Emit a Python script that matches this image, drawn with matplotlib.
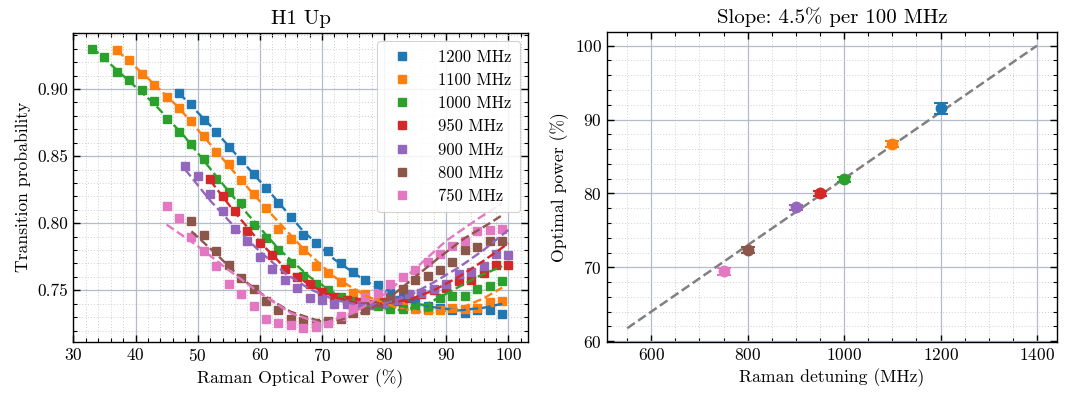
import numpy as np
import matplotlib
matplotlib.use("Agg")
import matplotlib.pyplot as plt
from matplotlib.ticker import MultipleLocator

plt.rcParams.update({
    "font.family": "serif",
    "font.serif": ["cmr10", "DejaVu Serif"],
    "mathtext.fontset": "cm",
    "axes.formatter.use_mathtext": True,
    "axes.unicode_minus": False,
})

# ---------------- data: left panel ----------------
labels = ["1200 MHz", "1100 MHz", "1000 MHz", "950 MHz", "900 MHz", "800 MHz", "750 MHz"]
colors = ["#1f77b4", "#ff7f0e", "#2ca02c", "#d62728", "#9467bd", "#8c564b", "#e377c2"]

x_1200 = list(range(47, 100, 2))
y_1200 = [0.897, 0.889, 0.877, 0.868, 0.857, 0.847, 0.837, 0.826, 0.815, 0.805,
          0.791, 0.785, 0.779, 0.770, 0.764, 0.758, 0.754, 0.748, 0.744, 0.741,
          0.738, 0.737, 0.735, 0.733, 0.735, 0.735, 0.732]

x_1100 = list(range(37, 100, 2))
y_1100 = [0.929, 0.922, 0.911, 0.903, 0.894, 0.886, 0.876, 0.865, 0.853, 0.844,
          0.832, 0.822, 0.811, 0.796, 0.788, 0.780, 0.768, 0.763, 0.756, 0.748,
          0.747, 0.742, 0.740, 0.738, 0.736, 0.735, 0.735, 0.737, 0.736, 0.737,
          0.741, 0.742]

x_1000 = list(range(33, 100, 2))
y_1000 = [0.930, 0.924, 0.913, 0.907, 0.899, 0.891, 0.878, 0.868, 0.859, 0.848,
          0.833, 0.823, 0.815, 0.799, 0.789, 0.780, 0.770, 0.761, 0.755, 0.750,
          0.745, 0.742, 0.739, 0.738, 0.736, 0.736, 0.738, 0.737, 0.744, 0.746,
          0.746, 0.751, 0.753, 0.757]

x_950 = list(range(52, 101, 2))
y_950 = [0.833, 0.820, 0.809, 0.794, 0.785, 0.776, 0.766, 0.760, 0.755, 0.749,
         0.745, 0.743, 0.741, 0.740, 0.741, 0.742, 0.744, 0.747, 0.750, 0.752,
         0.757, 0.758, 0.763, 0.769, 0.769]

x_900 = list(range(48, 101, 2))
y_900 = [0.843, 0.835, 0.822, 0.809, 0.796, 0.787, 0.775, 0.766, 0.758, 0.752,
         0.744, 0.743, 0.740, 0.740, 0.739, 0.739, 0.740, 0.743, 0.747, 0.748,
         0.751, 0.755, 0.762, 0.764, 0.768, 0.777, 0.776]

x_800 = list(range(49, 100, 2))
y_800 = [0.802, 0.791, 0.779, 0.769, 0.759, 0.751, 0.742, 0.735, 0.729, 0.727,
         0.725, 0.727, 0.729, 0.733, 0.735, 0.740, 0.745, 0.751, 0.758, 0.761,
         0.765, 0.771, 0.780, 0.782, 0.787, 0.787]

x_750 = list(range(45, 100, 2))
y_750 = [0.813, 0.804, 0.790, 0.779, 0.768, 0.755, 0.747, 0.738, 0.729, 0.726,
         0.724, 0.722, 0.723, 0.726, 0.731, 0.737, 0.745, 0.748, 0.755, 0.760,
         0.765, 0.771, 0.777, 0.783, 0.787, 0.794, 0.795, 0.796]

# fitted curves (dashed)
fx_1200 = [47, 52, 57, 62, 67, 72, 77, 82, 87, 92, 96, 99]
fy_1200 = [0.897, 0.873, 0.847, 0.821, 0.794, 0.773, 0.757, 0.745, 0.738, 0.735, 0.737, 0.740]
fx_1100 = [37, 42, 47, 52, 57, 62, 67, 72, 77, 82, 87, 92, 96, 99]
fy_1100 = [0.929, 0.908, 0.886, 0.859, 0.832, 0.806, 0.781, 0.760, 0.746, 0.737, 0.733, 0.736, 0.744, 0.752]
fx_1000 = [33, 38, 43, 48, 53, 58, 63, 68, 73, 78, 83, 87, 91, 95, 99]
fy_1000 = [0.931, 0.910, 0.889, 0.864, 0.835, 0.807, 0.781, 0.760, 0.745, 0.737, 0.735, 0.740, 0.750, 0.760, 0.768]
fx_950 = [52, 56, 60, 64, 68, 72, 76, 80, 84, 88, 92, 96, 100]
fy_950 = [0.832, 0.808, 0.786, 0.767, 0.754, 0.745, 0.740, 0.740, 0.743, 0.750, 0.760, 0.772, 0.785]
fx_900 = [48, 52, 56, 60, 64, 68, 72, 76, 80, 84, 88, 92, 96, 100]
fy_900 = [0.840, 0.817, 0.797, 0.779, 0.763, 0.751, 0.743, 0.739, 0.740, 0.746, 0.756, 0.767, 0.780, 0.795]
fx_800 = [49, 53, 57, 61, 65, 69, 73, 77, 81, 85, 89, 93, 97, 99]
fy_800 = [0.794, 0.777, 0.759, 0.745, 0.734, 0.728, 0.728, 0.734, 0.745, 0.760, 0.775, 0.789, 0.800, 0.806]
fx_750 = [45, 50, 55, 60, 65, 70, 75, 80, 85, 90, 95, 99]
fy_750 = [0.799, 0.783, 0.765, 0.748, 0.733, 0.725, 0.733, 0.747, 0.766, 0.787, 0.803, 0.815]

series_x = [x_1200, x_1100, x_1000, x_950, x_900, x_800, x_750]
series_y = [y_1200, y_1100, y_1000, y_950, y_900, y_800, y_750]
fits_x = [fx_1200, fx_1100, fx_1000, fx_950, fx_900, fx_800, fx_750]
fits_y = [fy_1200, fy_1100, fy_1000, fy_950, fy_900, fy_800, fy_750]

# ---------------- data: right panel ----------------
detuning = [1200, 1100, 1000, 950, 900, 800, 750]
opt_power = [91.5, 86.7, 81.9, 80.0, 78.1, 72.3, 69.45]
opt_err = [0.8, 0.45, 0.35, 0.3, 0.35, 0.4, 0.45]
line_detuning = [550, 1400]
line_power = [61.75, 100.0]

# ---------------- figure ----------------
fig = plt.figure(figsize=(10.7, 3.94), dpi=100)
ax1 = fig.add_axes([0.068, 0.132, 0.4257, 0.785])
ax2 = fig.add_axes([0.567, 0.131, 0.4213, 0.789])

major_grid = dict(which="major", color="#b4bccb", linewidth=0.9, linestyle="-")
minor_grid = dict(which="minor", color="#cfcfcf", linewidth=0.7, linestyle=(0, (1, 2)))

for ax in (ax1, ax2):
    ax.set_axisbelow(True)
    ax.grid(**major_grid)
    ax.grid(**minor_grid)
    ax.tick_params(which="both", direction="in", top=True, right=True, labelsize=12.5)
    ax.tick_params(which="major", length=5, width=1.0)
    ax.tick_params(which="minor", length=2.7, width=0.8)
    for s in ax.spines.values():
        s.set_linewidth(1.0)

# left panel
for xs, ys, fx, fy, c, lab in zip(series_x, series_y, fits_x, fits_y, colors, labels):
    ax1.plot(xs, ys, "s", color=c, markersize=6, label=lab, zorder=3)
    ax1.plot(fx, fy, "--", color=c, linewidth=1.7, zorder=4)

ax1.set_xlim(29.9, 103.2)
ax1.set_ylim(0.7115, 0.942)
ax1.xaxis.set_major_locator(MultipleLocator(10))
ax1.xaxis.set_minor_locator(MultipleLocator(2))
ax1.yaxis.set_major_locator(MultipleLocator(0.05))
ax1.yaxis.set_minor_locator(MultipleLocator(0.01))
ax1.yaxis.set_major_formatter(plt.FuncFormatter(lambda v, p: f"{v:.2f}"))
ax1.set_xlabel("Raman Optical Power (%)", fontsize=12.7)
ax1.set_ylabel("Transition probability", fontsize=12.7)
ax1.set_title("H1 Up", fontsize=15)
leg = ax1.legend(loc="upper right", fontsize=11.9, frameon=True, fancybox=True,
                 framealpha=0.85, edgecolor="#cccccc", handlelength=2.0,
                 handletextpad=1.2, labelspacing=0.48, borderpad=0.5,
                 markerscale=0.95)
leg.get_frame().set_linewidth(0.8)

# right panel
ax2.plot(line_detuning, line_power, "--", color="gray", linewidth=1.8, zorder=2)
for d, p, e, c in zip(detuning, opt_power, opt_err, colors):
    ax2.errorbar([d], [p], yerr=[e], fmt="o", color=c, markersize=7.5,
                 capsize=5, elinewidth=1.5, capthick=1.5, zorder=3)
ax2.margins(x=0.05, y=0.05)
ax2.xaxis.set_major_locator(MultipleLocator(200))
ax2.xaxis.set_minor_locator(MultipleLocator(50))
ax2.yaxis.set_major_locator(MultipleLocator(10))
ax2.yaxis.set_minor_locator(MultipleLocator(2))
ax2.set_xlabel("Raman detuning (MHz)", fontsize=12.7)
ax2.set_ylabel("Optimal power (%)", fontsize=12.7)
ax2.set_title("Slope: 4.5% per 100 MHz", fontsize=15)

fig.savefig("out.png", dpi=100)
